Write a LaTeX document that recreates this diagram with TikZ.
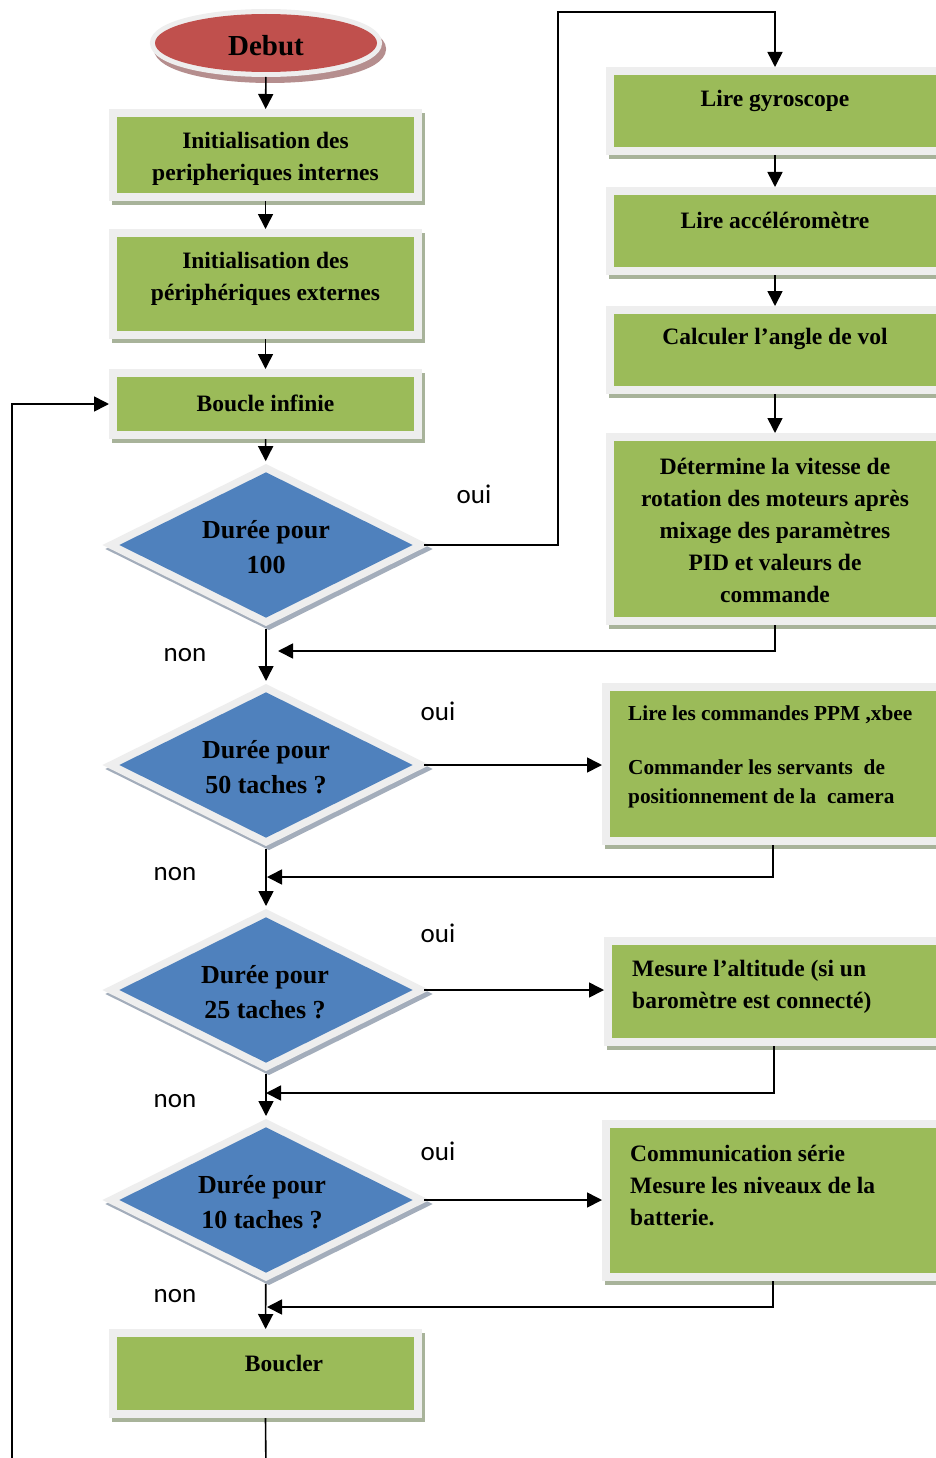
\documentclass[tikz,border=0pt]{standalone}
\usepackage{fontspec}
\setmainfont{Liberation Serif}
\newfontfamily\answerfont{Carlito}
\usetikzlibrary{shapes.geometric,arrows.meta}

\definecolor{leaf}{HTML}{9BBB59}
\definecolor{sky}{HTML}{4F81BD}
\definecolor{brick}{HTML}{C0504D}
\definecolor{rim}{HTML}{EEEEEE}
\definecolor{leafshade}{HTML}{A8B39A}
\definecolor{skyshade}{HTML}{A3ADBB}
\definecolor{brickshade}{HTML}{B58E8E}

\tikzset{
  flow/.style={line width=1.6pt, -{Triangle[length=15pt,width=15pt]}},
  stepbox/.style={rectangle, fill=leaf, inner sep=0pt, outer sep=8pt,
    preaction={draw=leafshade, fill=leafshade, line width=16pt,
      transform canvas={shift={(3pt,-4pt)}}},
    preaction={draw=rim, line width=16pt}},
  testbox/.style={diamond, fill=sky, inner sep=0pt, outer sep=8pt,
    minimum width=300pt, minimum height=152pt,
    preaction={draw=skyshade, fill=skyshade, line width=15pt,
      transform canvas={shift={(3pt,-4pt)}}},
    preaction={draw=rim, line width=15pt}},
  startbox/.style={ellipse, fill=brick, inner sep=0pt, outer sep=5pt,
    minimum width=222pt, minimum height=58pt,
    preaction={draw=brickshade, fill=brickshade, line width=10pt,
      transform canvas={shift={(4pt,-6pt)}}},
    preaction={draw=rim, line width=10pt}},
  boxtext/.style={align=center, inner sep=0pt,
    font=\fontsize{23.5}{32}\selectfont\bfseries},
  sidetext/.style={align=left, anchor=west, inner sep=0pt,
    font=\fontsize{23.5}{32}\selectfont\bfseries},
  testtext/.style={align=center, inner sep=0pt,
    font=\fontsize{26}{35}\selectfont\bfseries},
  answer/.style={inner sep=0pt, font=\answerfont\fontsize{27}{30}\selectfont},
}

\begin{document}
\begin{tikzpicture}[x=1pt, y=-1pt]
\useasboundingbox (0,0) rectangle (936,1458);
\clip (0,0) rectangle (936,1458);

% ---- main column ----
\node[startbox] (debut) at (266,43) {};
\node[inner sep=0pt, font=\fontsize{29}{34}\selectfont\bfseries] (tdebut) at (266,46) {Debut};

\node[stepbox, minimum width=297pt, minimum height=76pt] (init1) at (265.5,155) {};
\node[boxtext] (tinit1) at (265.5,159) {Initialisation des\\peripheriques internes};

\node[stepbox, minimum width=297pt, minimum height=94pt] (init2) at (265.5,284) {};
\node[boxtext] (tinit2) at (265.5,279) {Initialisation des\\périphériques externes};

\node[stepbox, minimum width=297pt, minimum height=54pt] (loop) at (265.5,404) {};
\node[boxtext] (tloop) at (265.5,403) {Boucle infinie};

\node[testbox] (d1) at (266,545) {};
\node[testtext] (td1) at (266,547) {Durée pour\\100};

\node[testbox] (d2) at (266,765) {};
\node[testtext] (td2) at (266,767) {Durée pour\\50 taches ?};

\node[testbox] (d3) at (266,990) {};
\node[testtext] (td3) at (265,992) {Durée pour\\25 taches ?};

\node[testbox] (d4) at (266,1200) {};
\node[testtext] (td4) at (262,1202) {Durée pour\\10 taches ?};

\node[stepbox, minimum width=297pt, minimum height=73pt] (boucler) at (265.5,1373.5) {};
\node[boxtext] (tboucler) at (284,1363) {Boucler};

% ---- right column ----
\node[stepbox, minimum width=322pt, minimum height=72pt] (gyro) at (775,111) {};
\node[boxtext] (tgyro) at (775,101) {Lire gyroscope};

\node[stepbox, minimum width=322pt, minimum height=72pt] (accel) at (775,231) {};
\node[boxtext] (taccel) at (775,220) {Lire accéléromètre};

\node[stepbox, minimum width=322pt, minimum height=72pt] (angle) at (775,350) {};
\node[boxtext] (tangle) at (775,339) {Calculer l’angle de vol};

\node[stepbox, minimum width=322pt, minimum height=176pt] (mix) at (775,529) {};
\node[boxtext] (tmix) at (775,530) {Détermine la vitesse de\\rotation des moteurs après\\mixage des paramètres\\PID et valeurs de\\commande};

\node[stepbox, minimum width=326pt, minimum height=146pt] (cmd) at (773,764) {};
\node[sidetext, font=\fontsize{21.3}{29}\selectfont\bfseries] (tcmd) at (628,757)
  {Lire les commandes PPM ,xbee\\[25pt]Commander les servants\ \ de\\positionnement de la\ \ camera};

\node[stepbox, minimum width=324pt, minimum height=93pt] (alt) at (774,991.5) {};
\node[sidetext] (talt) at (632,987) {Mesure l’altitude (si un\\baromètre est connecté)};

\node[stepbox, minimum width=326pt, minimum height=145pt] (comm) at (773,1200.5) {};
\node[sidetext] (tcomm) at (630,1185) {Communication série\\Mesure les niveaux de la\\batterie.};

% ---- answers ----
\node[answer] (oui1) at (474,494) {oui};
\node[answer] (oui2) at (438,711) {oui};
\node[answer] (oui3) at (438,933) {oui};
\node[answer] (oui4) at (438,1151) {oui};
\node[answer] (non1) at (185,655) {non};
\node[answer] (non2) at (175,874) {non};
\node[answer] (non3) at (175,1101) {non};
\node[answer] (non4) at (175,1296) {non};

% ---- turning points ----
\coordinate (up1) at (558,12);
\coordinate (j1) at (278,651);
\coordinate (j2) at (267,877);
\coordinate (j3) at (266,1093);
\coordinate (j4) at (267,1307);
\coordinate (down) at (266,1475);
\coordinate (back) at (12,1475);

% ---- connectors ----
\draw[flow] (debut) -- (init1);
\draw[flow] (init1) -- (init2);
\draw[flow] (init2) -- (loop);
\draw[flow] (loop) -- (d1);
\draw[flow] (d1) -- (d2);
\draw[flow] (d2) -- (d3);
\draw[flow] (d3) -- (d4);
\draw[flow] (d4) -- (boucler);
\draw[flow] (boucler.south) -- (down) -- (back) |- (loop.west);

\draw[flow] (d1.east) -| (up1) -| (gyro.north);
\draw[flow] (gyro) -- (accel);
\draw[flow] (accel) -- (angle);
\draw[flow] (angle) -- (mix);
\draw[flow] (mix.south) |- (j1);

\draw[flow] (d2.east) -- (d2.east -| cmd.west);
\draw[flow] (cmd.south) |- (j2);
\draw[flow] (d3.east) -- (d3.east -| alt.west);
\draw[flow] (alt.south) |- (j3);
\draw[flow] (d4.east) -- (d4.east -| comm.west);
\draw[flow] (comm.south) |- (j4);
\end{tikzpicture}
\end{document}
